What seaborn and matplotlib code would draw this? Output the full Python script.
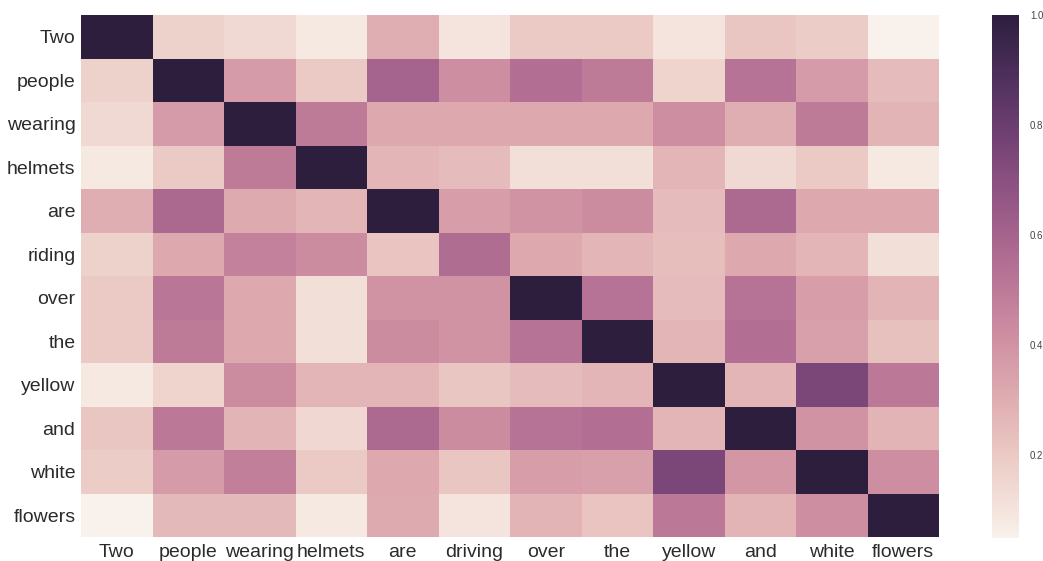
import numpy as np
import pandas as pd
import matplotlib
matplotlib.use("Agg")
import matplotlib.pyplot as plt
import seaborn as sns

# Token-to-token similarity between a caption and its paraphrase
row_words = ["Two", "people", "wearing", "helmets", "are", "riding",
             "over", "the", "yellow", "and", "white", "flowers"]
col_words = ["Two", "people", "wearing", "helmets", "are", "driving",
             "over", "the", "yellow", "and", "white", "flowers"]

r_two     = [1.00, 0.17, 0.14, 0.08, 0.30, 0.10, 0.20, 0.20, 0.10, 0.21, 0.19, 0.05]
r_people  = [0.17, 1.00, 0.37, 0.20, 0.60, 0.42, 0.55, 0.50, 0.16, 0.53, 0.37, 0.25]
r_wearing = [0.14, 0.37, 1.00, 0.50, 0.32, 0.32, 0.32, 0.32, 0.42, 0.30, 0.50, 0.28]
r_helmets = [0.08, 0.20, 0.50, 1.00, 0.27, 0.25, 0.12, 0.12, 0.27, 0.14, 0.20, 0.08]
r_are     = [0.30, 0.58, 0.31, 0.27, 1.00, 0.36, 0.40, 0.43, 0.25, 0.57, 0.32, 0.32]
r_riding  = [0.17, 0.32, 0.47, 0.43, 0.22, 0.56, 0.32, 0.27, 0.24, 0.32, 0.27, 0.12]
r_over    = [0.20, 0.52, 0.32, 0.12, 0.40, 0.40, 1.00, 0.53, 0.25, 0.53, 0.36, 0.28]
r_the     = [0.20, 0.50, 0.32, 0.12, 0.43, 0.40, 0.53, 1.00, 0.27, 0.55, 0.35, 0.23]
r_yellow  = [0.08, 0.16, 0.43, 0.27, 0.27, 0.21, 0.25, 0.27, 1.00, 0.27, 0.75, 0.51]
r_and     = [0.21, 0.51, 0.28, 0.15, 0.57, 0.43, 0.53, 0.55, 0.27, 1.00, 0.40, 0.28]
r_white   = [0.19, 0.37, 0.48, 0.20, 0.32, 0.21, 0.36, 0.35, 0.75, 0.39, 1.00, 0.42]
r_flowers = [0.05, 0.26, 0.26, 0.08, 0.31, 0.10, 0.28, 0.22, 0.51, 0.28, 0.42, 1.00]

matrix = pd.DataFrame(
    [r_two, r_people, r_wearing, r_helmets, r_are, r_riding,
     r_over, r_the, r_yellow, r_and, r_white, r_flowers],
    index=row_words, columns=col_words)

sns.set_style("white")
plt.rcParams["font.family"] = ["Liberation Sans", "DejaVu Sans"]

fig = plt.figure(figsize=(10.43, 5.61), dpi=100)
ax = fig.add_axes([81 / 1043, 24 / 561, 858 / 1043, 522 / 561])
cax = fig.add_axes([992 / 1043, 23 / 561, 27 / 1043, 523 / 561])

cmap = sns.cubehelix_palette(light=0.95, as_cmap=True)
sns.heatmap(matrix, ax=ax, cbar_ax=cax, cmap=cmap,
            xticklabels=True, yticklabels=True)

ax.tick_params(axis="both", length=0, labelsize=14, colors="#2b2b2b")
ax.set_yticklabels(row_words, rotation=0, va="center_baseline")
ax.set_xticklabels(col_words, rotation=0)
ax.tick_params(axis="y", pad=4)
ax.tick_params(axis="x", pad=5)

cax.tick_params(length=0, labelsize=7, colors="#444444", pad=8)
cax.set_yticks([0.2, 0.4, 0.6, 0.8, 1.0])
for sp in cax.spines.values():
    sp.set_visible(False)

fig.savefig("out.png", dpi=100)
